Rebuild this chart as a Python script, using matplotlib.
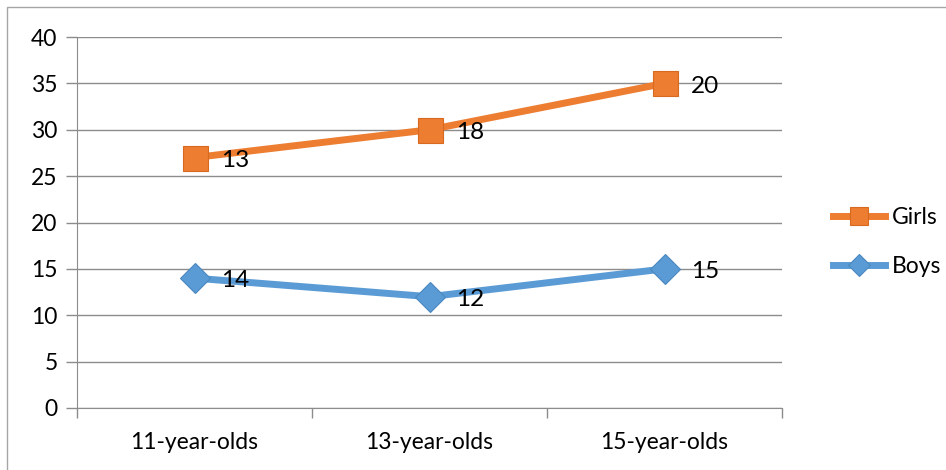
import numpy as np
import matplotlib.pyplot as plt
from matplotlib.patches import Rectangle

# stacked line chart: girls are plotted on top of boys
ages = ["11-year-olds", "13-year-olds", "15-year-olds"]
boys = [14, 12, 15]
girls = [13, 18, 20]

orange = "#ED7D31"
blue = "#5B9BD5"
grid = "#8C8C8C"

plt.rcParams["font.family"] = ["Lato", "DejaVu Sans"]

fig = plt.figure(figsize=(9.46, 4.70), dpi=100)
ax = fig.add_axes([77/946, 1-408/470, (782-77)/946, (408-37)/470])

x = np.arange(len(ages))
girls_top = np.array(boys) + np.array(girls)

lg, = ax.plot(x, girls_top, color=orange, lw=5, marker="s", ms=18,
              mfc=orange, mec="#D86A20", mew=0.8, label="Girls", zorder=4)
lb, = ax.plot(x, boys, color=blue, lw=5, marker="D", ms=15,
              mfc=blue, mec="#4A88C0", mew=0.8, label="Boys", zorder=3)

for xi, yi, v in zip(x, girls_top, girls):
    ax.annotate(str(v), (xi, yi), xytext=(19, -2), textcoords="offset points",
                ha="left", va="center", fontsize=17.5, color="black", zorder=5)
for xi, yi, v in zip(x, boys, boys):
    ax.annotate(str(v), (xi, yi), xytext=(19, -2), textcoords="offset points",
                ha="left", va="center", fontsize=17.5, color="black", zorder=5)

ax.set_xlim(-0.5, 2.5)
ax.set_ylim(0, 40)
ax.set_yticks(range(0, 41, 5))
ax.yaxis.grid(True, color=grid, lw=1)
ax.set_axisbelow(True)

ax.set_xticks(x)
ax.set_xticklabels(ages)
ax.set_xticks([-0.5, 0.5, 1.5, 2.5], minor=True)
ax.tick_params(axis="x", which="major", length=0, pad=17, labelsize=16.5)
ax.tick_params(axis="x", which="minor", length=7, color=grid, width=1)
ax.tick_params(axis="y", length=8, color=grid, width=1, labelsize=16.5, pad=6)

for s in ["top", "right"]:
    ax.spines[s].set_visible(False)
ax.spines["left"].set_color(grid)
ax.spines["bottom"].set_color(grid)

leg = fig.legend(handles=[lg, lb], loc="center left",
                 bbox_to_anchor=(812/946, 1-242/470), frameon=False,
                 fontsize=16.5, handlelength=2.3, labelspacing=1.2,
                 handletextpad=0.3, markerscale=0.75)

# chart border
fig.patches.append(Rectangle((7/946, -0.1), 1.2, 1-7/470+0.1,
                             transform=fig.transFigure, fill=False,
                             ec="#A6A6A6", lw=1))

fig.savefig("out.png", dpi=100)
